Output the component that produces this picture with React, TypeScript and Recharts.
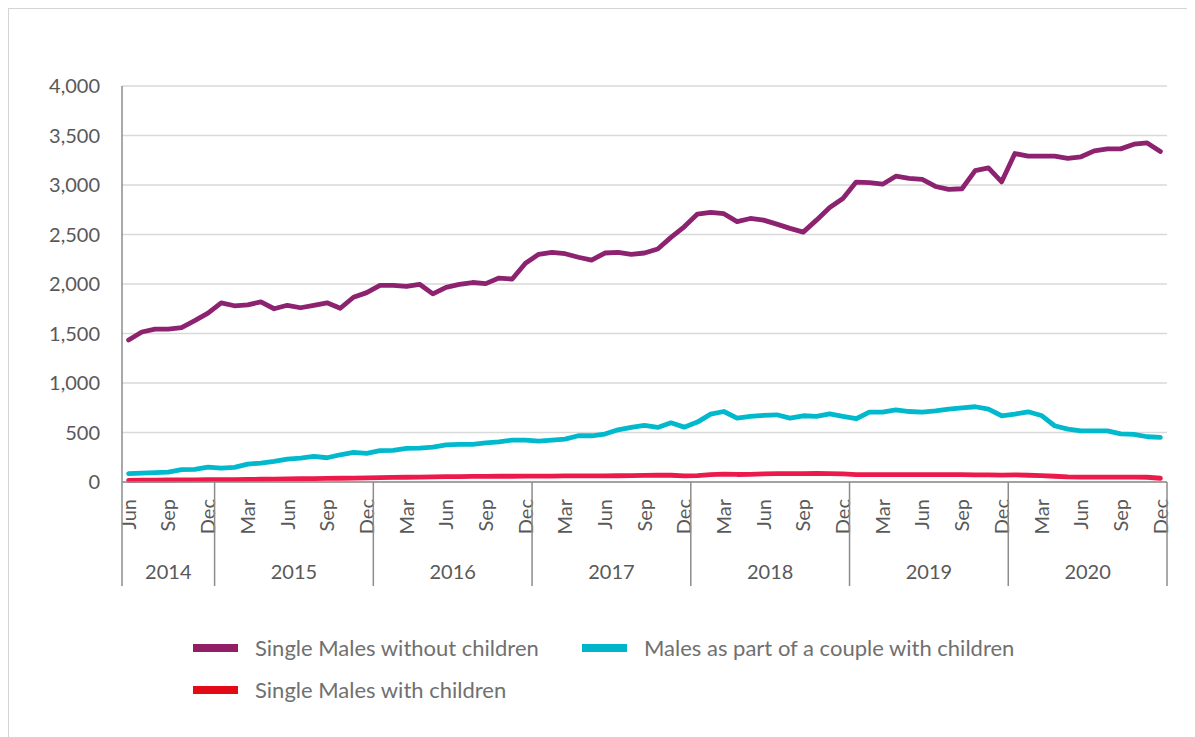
import { LineChart, Line, XAxis, YAxis, CartesianGrid, Legend } from 'recharts'

const MONTHS = ['Jan', 'Feb', 'Mar', 'Apr', 'May', 'Jun', 'Jul', 'Aug', 'Sep', 'Oct', 'Nov', 'Dec']
const YEARS = [2014, 2015, 2016, 2017, 2018, 2019, 2020]
const FIRST_MONTH = 5 // series starts in Jun 2014

const Y_TICKS = [0, 500, 1000, 1500, 2000, 2500, 3000, 3500, 4000]

// Jun 2014 .. Dec 2020, monthly
const singleNoKids = [
  1435, 1515, 1545, 1545, 1560, 1630, 1705,
  1810, 1780, 1790, 1820, 1750, 1785, 1760, 1785, 1810, 1755, 1866, 1913,
  1987, 1987, 1975, 1997, 1900, 1966, 1997, 2015, 2004, 2060, 2050, 2210,
  2300, 2320, 2306, 2270, 2242, 2313, 2320, 2300, 2313, 2353, 2471, 2578,
  2706, 2723, 2710, 2630, 2662, 2645, 2605, 2562, 2524, 2645, 2773, 2864,
  3030, 3025, 3008, 3089, 3066, 3056, 2985, 2955, 2962, 3145, 3173, 3032,
  3318, 3291, 3291, 3291, 3268, 3285, 3345, 3365, 3365, 3412, 3425, 3338,
]
const coupleWithKids = [
  84, 90, 94, 100, 124, 127, 151,
  141, 148, 181, 191, 208, 231, 242, 258, 245, 275, 299, 289,
  316, 319, 340, 343, 353, 376, 380, 380, 396, 406, 423, 423,
  413, 423, 433, 467, 467, 484, 527, 551, 571, 551, 598, 554,
  605, 686, 712, 645, 662, 672, 679, 645, 669, 662, 689, 662,
  639, 706, 706, 729, 712, 706, 719, 736, 749, 760, 736, 669,
  686, 709, 672, 568, 534, 517, 517, 517, 487, 481, 457, 450,
]
const singleWithKids = [
  17, 18, 19, 20, 21, 22, 23,
  24, 25, 26, 28, 30, 32, 33, 35, 37, 38, 40, 42,
  44, 46, 48, 50, 52, 54, 55, 56, 57, 58, 58, 59,
  60, 60, 61, 61, 62, 62, 63, 65, 67, 68, 68, 62,
  65, 75, 80, 76, 78, 82, 84, 85, 85, 86, 84, 82,
  75, 74, 74, 74, 74, 74, 74, 74, 74, 72, 72, 70,
  72, 68, 64, 58, 52, 50, 50, 50, 50, 50, 48, 38,
]

const SERIES = [
  { key: 'singleNoKids', name: 'Single Males without children', color: '#8C2270', swatch: '#921E66' },
  { key: 'coupleWithKids', name: 'Males as part of a couple with children', color: '#00B9CC', swatch: '#00B5C9' },
  { key: 'singleWithKids', name: 'Single Males with children', color: '#EC1A4A', swatch: '#E30A17' },
]

const categories: { month: string; year: number }[] = []
YEARS.forEach((year, yi) => {
  MONTHS.forEach((month, mi) => {
    if (yi === 0 && mi < FIRST_MONTH) return
    categories.push({ month, year })
  })
})

const data = categories.map((c, i) => ({
  key: `${c.month} ${c.year}`,
  singleNoKids: singleNoKids[i],
  coupleWithKids: coupleWithKids[i],
  singleWithKids: singleWithKids[i],
}))

const W = 1186
const H = 728
const MARGIN = { top: 77, right: 28, left: 0, bottom: 151 }
const Y_AXIS_W = 113
const BAND = (W - MARGIN.left - MARGIN.right - Y_AXIS_W) / categories.length
const FONT = 'Lato, "Open Sans", sans-serif'
const AXIS_GREY = '#8c8c8c'
const TEXT_GREY = '#595959'

function MonthTick({ x, y, payload }: any) {
  const i = payload.index
  const cat = categories[i]
  if (!cat) return null
  const isYearStart = i === 0 || cat.month === 'Jan'
  let yearCenter = 0
  if (isYearStart) {
    let n = 0
    while (categories[i + n] && categories[i + n].year === cat.year) n++
    yearCenter = x - BAND / 2 + (n * BAND) / 2
  }
  const ty = y + 17
  return (
    <g>
      {i % 3 === 0 && (
        <text
          x={x}
          y={ty}
          transform={`rotate(-90 ${x} ${ty})`}
          textAnchor="end"
          dy="0.36em"
          fill={TEXT_GREY}
          fontSize={20}
          fontFamily={FONT}
        >
          {cat.month}
        </text>
      )}
      {i === 0 && <line x1={x - BAND / 2} x2={x - BAND / 2} y1={y} y2={y + 104} stroke={AXIS_GREY} strokeWidth={1.5} />}
      {cat.month === 'Dec' && (
        <line x1={x + BAND / 2} x2={x + BAND / 2} y1={y} y2={y + 104} stroke={AXIS_GREY} strokeWidth={1.5} />
      )}
      {isYearStart && (
        <text x={yearCenter} y={y + 97} textAnchor="middle" fill={TEXT_GREY} fontSize={20} fontFamily={FONT}>
          {cat.year}
        </text>
      )}
    </g>
  )
}

function ChartLegend() {
  const pos = [
    { left: 184, top: 4 },
    { left: 573, top: 4 },
    { left: 184, top: 46 },
  ]
  return (
    <div style={{ position: 'relative', width: W, height: 80, fontFamily: FONT }}>
      {SERIES.map((s, i) => (
        <div key={s.key} style={{ position: 'absolute', left: pos[i].left, top: pos[i].top, display: 'flex', alignItems: 'center' }}>
          <span style={{ width: 45, height: 8, background: s.swatch, display: 'inline-block' }} />
          <span style={{ marginLeft: 17, fontSize: 22, color: '#707070', whiteSpace: 'nowrap' }}>{s.name}</span>
        </div>
      ))}
    </div>
  )
}

export default function App() {
  return (
    <div
      style={{
        width: W,
        height: H,
        borderTop: '1px solid #d4d4d4',
        borderLeft: '1px solid #d4d4d4',
        background: '#fff',
        fontFamily: FONT,
      }}
    >
      <LineChart width={W} height={H} data={data} margin={MARGIN}>
        <CartesianGrid vertical={false} stroke="#d9d9d9" strokeWidth={1.5} />
        <XAxis
          dataKey="key"
          interval={0}
          padding={{ left: BAND / 2, right: BAND / 2 }}
          tick={<MonthTick />}
          tickLine={false}
          tickSize={0}
          tickMargin={0}
          height={104}
          axisLine={{ stroke: AXIS_GREY, strokeWidth: 1.5 }}
        />
        <YAxis
          domain={[0, 4000]}
          ticks={Y_TICKS}
          width={Y_AXIS_W}
          tickLine={false}
          tickSize={0}
          tickMargin={22}
          axisLine={{ stroke: AXIS_GREY, strokeWidth: 1.5 }}
          tick={{ fill: TEXT_GREY, fontSize: 20, fontFamily: FONT }}
          tickFormatter={(v: number) => v.toLocaleString('en-US')}
        />
        <Legend
          layout="horizontal"
          verticalAlign="middle"
          align="center"
          content={<ChartLegend />}
          wrapperStyle={{ top: 621, left: 0, width: W }}
        />
        {SERIES.map(s => (
          <Line
            key={s.key}
            type="linear"
            dataKey={s.key}
            name={s.name}
            stroke={s.color}
            strokeWidth={4.8}
            strokeLinejoin="round"
            strokeLinecap="round"
            dot={false}
            activeDot={false}
            isAnimationActive={false}
          />
        ))}
      </LineChart>
    </div>
  )
}
